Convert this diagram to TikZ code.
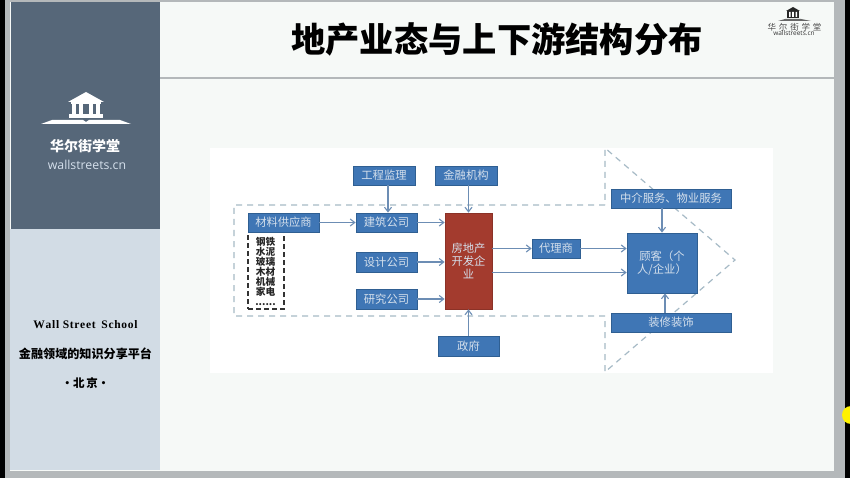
\documentclass[tikz,border=0pt]{standalone}
\usepackage{fontspec}
\setmainfont{Noto Sans CJK SC}
\newfontfamily\latinserif{Liberation Serif}
\newfontfamily\latinsans{Open Sans}
\usetikzlibrary{arrows.meta,calc}
\definecolor{panelDark}{HTML}{566779}
\definecolor{panelLight}{HTML}{D2DCE5}
\definecolor{slideBg}{HTML}{F6F9F7}
\definecolor{frameGrey}{HTML}{B4B8BA}
\definecolor{boxBlue}{HTML}{3F76B5}
\definecolor{boxEdge}{HTML}{2F5F92}
\definecolor{boxRed}{HTML}{A33B2E}
\definecolor{dashCol}{HTML}{A6BAC6}
\definecolor{arrowCol}{HTML}{6C8DB4}
\definecolor{boxText}{HTML}{D5E0EC}
\tikzset{
  bluebox/.style={draw=boxEdge,line width=0.8pt,fill=boxBlue,text=boxText,inner sep=0pt,font=\fontsize{11.3}{13}\selectfont,align=center},
  redbox/.style={bluebox,draw=boxRed!85!black,fill=boxRed},
  arr/.style={draw=arrowCol,line width=1.1pt,-{Straight Barb[length=4.5pt,width=7pt]}},
  dashline/.style={draw=dashCol,line width=1.2pt,dash pattern=on 6pt off 5pt},
  sidetext/.style={inner sep=0pt,align=center,text=black},
}
\newcommand{\bx}[7]{\node[#1,minimum width=#5pt-#3pt,minimum height=#6pt-#4pt] (#2) at ({(#3+#5)/2},{(#4+#6)/2}) {#7};}
\begin{document}
\begin{tikzpicture}[x=1pt,y=-1pt]
\useasboundingbox (0,0) rectangle (850,478);
% backdrop
\fill[black] (0,0) rectangle (850,478);
\fill[frameGrey] (5,0) rectangle (845,478);
\fill[slideBg] (10,2) rectangle (834,471);
\fill[panelDark] (11,2) rectangle (160,229);
\fill[panelLight] (10,229) rectangle (160,470);
\fill[frameGrey] (160,77) rectangle (834,79);
\fill[yellow] (851,415) circle (9);
\fill[white] (210,148) rectangle (773,373);
% large logo
\fill[white] (86,92) -- (104,102) -- (68,102) -- cycle;
\fill[white] (71,102) rectangle (101,104);
\foreach \cx in {74,81,91,98} {\fill[white] (\cx-2,104) rectangle (\cx+2,114);}
\fill[white] (69,114) rectangle (103,118);
\fill[white] (41,124) -- (52,120) -- (83,120) -- (86,122) -- (89,120) -- (120,120) -- (131,124) -- cycle;
\node[inner sep=0pt,text=white] (brand) at (85,146) {\fontsize{14}{16}\selectfont\bfseries 华尔街学堂};
\node[inner sep=0pt,text=boxText] (brandurl) at (87,165) {\fontsize{12.3}{14}\selectfont\latinsans wallstreets.cn};
% side text
\node[sidetext] (school) at (85.5,324.5) {\fontsize{11.5}{13}\selectfont\latinserif\bfseries W\kern0.7pt a\kern0.7pt l\kern0.7pt l\kern0.7pt\ S\kern0.7pt t\kern0.7pt r\kern0.7pt e\kern0.7pt e\kern0.7pt t\ \ S\kern0.7pt c\kern0.7pt h\kern0.7pt o\kern0.7pt o\kern0.7pt l};
\node[sidetext] (motto) at (85.5,354) {\fontsize{12.1}{14}\selectfont\bfseries 金融领域的知识分享平台};
\node[sidetext] (city) at (85.5,383) {\fontsize{11.5}{14}\selectfont\bfseries ·北\,京·};
% title
\node[inner sep=0pt,text=black] (title) at (497,39) {\fontsize{34.3}{38}\selectfont\bfseries 地产业态与上下游结构分布};
% small logo
\fill[black!85] (793,7) -- (800,11) -- (786,11) -- cycle;
\fill[black!85] (787,11) rectangle (799,18);
\fill[white] (789,12) rectangle (790.5,17) (792.2,12) rectangle (793.8,17) (795.5,12) rectangle (797,17);
\fill[black!60] (778,21) -- (785,19) -- (801,19) -- (811,21) -- cycle;
\node[inner sep=0pt,text=black!70] (logotext) at (794.5,27) {\fontsize{8.5}{10}\selectfont 华\,\,尔\,\,街\,\,学\,\,堂};
\node[inner sep=0pt,text=black!80] (logourl) at (794,33.5) {\fontsize{6.5}{8}\selectfont\latinsans wallstreets.cn};
% dashed regions
\draw[dashline] (605,205) -- (234,205) -- (234,316) -- (605,316) -- (605,372) -- (735,260) -- (605,148) -- cycle;
% list box
\node[draw=black!80,line width=1.2pt,dash pattern=on 5pt off 3pt,inner sep=0pt,minimum width=36pt,minimum height=77pt] (listbox) at (266,270.5) {};
\node[inner sep=0pt,align=center,text=black!85,font=\fontsize{9.7}{10}\selectfont\bfseries] (listtext) at (265.5,271) {钢铁\\水泥\\玻璃\\木材\\机械\\家电\\......};
% boxes
\bx{bluebox}{jianli}{353}{166}{415}{185}{工程监理}
\bx{bluebox}{jinrong}{435}{166}{497}{185}{金融机构}
\bx{bluebox}{gongying}{248}{213}{319}{232}{材料供应商}
\bx{bluebox}{jianzhu}{356}{213}{417}{232}{建筑公司}
\bx{bluebox}{sheji}{356}{252}{417}{272}{设计公司}
\bx{bluebox}{yanjiu}{356}{289}{417}{309}{研究公司}
\bx{redbox}{fang}{445}{213}{492}{309}{房地产\\开发企\\业}
\bx{bluebox}{zhengfu}{438}{336}{499}{356}{政府}
\bx{bluebox}{zhongjie}{611}{189}{731}{208}{中介服务、物业服务}
\bx{bluebox}{guke}{627}{233}{697}{293}{顾客（个\\人/企业）}
\bx{bluebox}{daili}{532}{239}{580}{258}{代理商}
\bx{bluebox}{zhuangxiu}{611}{313}{731}{332}{装修装饰}
% connectors
\draw[arr] ([xshift=4pt]jianli.south) -- ([xshift=1.5pt]jianzhu.north);
\draw[arr] (jinrong.south -| fang.north) -- (fang.north);
\draw[arr] (gongying.east) -- (jianzhu.west);
\draw[arr] (jianzhu.east) -- (jianzhu.east -| fang.west);
\draw[arr] (sheji.east) -- (sheji.east -| fang.west);
\draw[arr] (yanjiu.east) -- (yanjiu.east -| fang.west);
\draw[arr] (zhengfu.north -| fang.south) -- (fang.south);
\draw[arr] (daili.west -| fang.east) -- (daili.west);
\draw[arr] (daili.east) -- (daili.east -| guke.west);
\draw[arr] ([yshift=-11.5pt]fang.east) -- ([yshift=-9.5pt]guke.west);
\draw[arr] (zhongjie.south -| guke.north) -- (guke.north);
\draw[arr] ([xshift=3pt]zhuangxiu.north -| guke.south) -- ([xshift=3pt]guke.south);
\end{tikzpicture}
\end{document}
